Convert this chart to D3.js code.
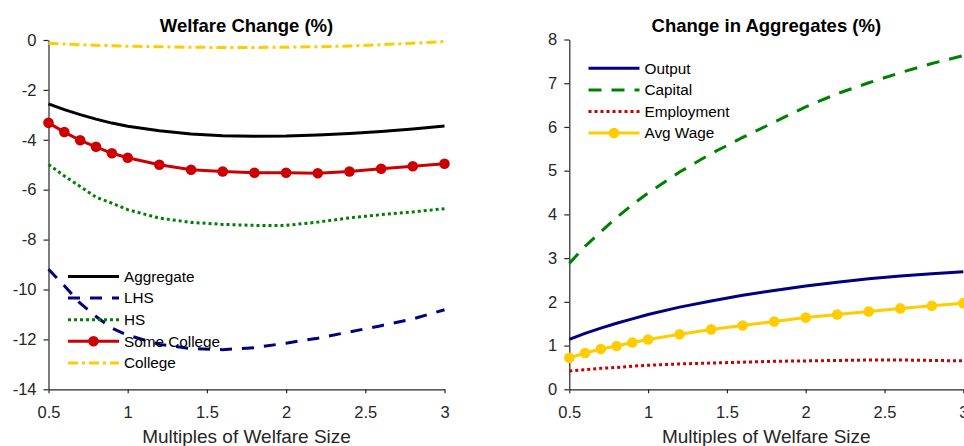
<!DOCTYPE html>
<html>
<head>
<meta charset="utf-8">
<script src="https://cdn.jsdelivr.net/npm/d3@7"></script>
<style>
  body { margin: 0; background: #fff; }
  svg { display: block; font-family: "Liberation Sans", Arial, sans-serif; }
</style>
</head>
<body>
<div id="chart"></div>
<script>
// x grid shared by every series
const xs = [0.5, 0.6, 0.7, 0.8, 0.9, 1.0, 1.2, 1.4, 1.6, 1.8, 2.0, 2.2, 2.4, 2.6, 2.8, 3.0];
const xTicks = [0.5, 1, 1.5, 2, 2.5, 3];

// left panel: welfare change (%)
const aggregate   = [-2.56, -2.79, -2.99, -3.17, -3.33, -3.46, -3.64, -3.77, -3.84, -3.86, -3.85, -3.81, -3.75, -3.67, -3.57, -3.45];
const lhs         = [-9.19, -9.85, -10.55, -11.08, -11.55, -11.83, -12.2, -12.37, -12.41, -12.33, -12.15, -11.95, -11.7, -11.45, -11.18, -10.81];
const hs          = [-4.99, -5.45, -5.87, -6.3, -6.54, -6.8, -7.14, -7.31, -7.39, -7.43, -7.43, -7.3, -7.13, -7.0, -6.89, -6.76];
const someCollege = [-3.32, -3.69, -4.02, -4.28, -4.54, -4.72, -5.0, -5.2, -5.27, -5.32, -5.32, -5.34, -5.27, -5.16, -5.06, -4.96];
const college     = [-0.13, -0.16, -0.19, -0.21, -0.23, -0.25, -0.27, -0.29, -0.3, -0.3, -0.29, -0.27, -0.24, -0.19, -0.13, -0.06];
const welfareTicks = [0, -2, -4, -6, -8, -10, -12, -14];

// right panel: change in aggregates (%)
const output     = [1.14, 1.28, 1.40, 1.51, 1.61, 1.71, 1.88, 2.02, 2.15, 2.26, 2.36, 2.45, 2.53, 2.59, 2.64, 2.69];
const capital    = [2.88, 3.27, 3.6, 3.93, 4.22, 4.49, 4.97, 5.39, 5.76, 6.11, 6.46, 6.76, 7.01, 7.24, 7.45, 7.63];
const employment = [0.42, 0.45, 0.48, 0.5, 0.53, 0.55, 0.58, 0.6, 0.62, 0.64, 0.65, 0.66, 0.67, 0.67, 0.66, 0.65];
const avgWage    = [0.72, 0.83, 0.92, 0.99, 1.07, 1.14, 1.26, 1.37, 1.46, 1.55, 1.64, 1.71, 1.78, 1.85, 1.91, 1.97];
const aggTicks = [0, 1, 2, 3, 4, 5, 6, 7, 8];

const width = 964, height = 446;
const axisColor = "#262626";

const svg = d3.select("#chart").append("svg")
  .attr("width", width)
  .attr("height", height);

function panel(opt) {
  const x = d3.scaleLinear().domain([0.5, 3]).range([opt.left, opt.right]);
  const y = d3.scaleLinear().domain(opt.yDomain).range([opt.bottom, opt.top]);
  const g = svg.append("g");

  // plain hyphen for negatives, like the original
  const fmt = d => String(d);

  const xAxis = g.append("g")
    .attr("transform", `translate(0,${opt.bottom})`)
    .call(d3.axisBottom(x).tickValues(xTicks).tickSize(4).tickPadding(13).tickSizeOuter(0)
      .tickFormat(fmt));
  const yAxis = g.append("g")
    .attr("transform", `translate(${opt.left},0)`)
    .call(d3.axisLeft(y).tickValues(opt.yTicks).tickSize(5).tickPadding(7).tickSizeOuter(0)
      .tickFormat(fmt));

  [xAxis, yAxis].forEach(a => {
    a.select(".domain").attr("stroke", axisColor).attr("stroke-width", 1.2);
    a.selectAll(".tick line").attr("stroke", axisColor).attr("stroke-width", 1.2);
    a.selectAll(".tick text").attr("fill", axisColor).style("font-size", "16.5px")
      .style("font-family", '"Liberation Sans", Arial, sans-serif');
  });

  g.append("text")
    .attr("x", (opt.left + opt.right) / 2)
    .attr("y", 32)
    .attr("text-anchor", "middle")
    .style("font-size", "18.5px")
    .style("font-weight", "bold")
    .attr("fill", "#000")
    .text(opt.title);

  g.append("text")
    .attr("x", (opt.left + opt.right) / 2)
    .attr("y", 443)
    .attr("text-anchor", "middle")
    .style("font-size", "19px")
    .attr("fill", axisColor)
    .text("Multiples of Welfare Size");

  const line = d3.line().x((d, i) => x(xs[i])).y(d => y(d));

  opt.series.forEach(s => {
    g.append("path")
      .datum(s.values)
      .attr("fill", "none")
      .attr("stroke", s.color)
      .attr("stroke-width", 3)
      .attr("stroke-dasharray", s.dash || null)
      .attr("d", line);
    if (s.marker) {
      g.selectAll(null)
        .data(s.values)
        .join("circle")
        .attr("cx", (d, i) => x(xs[i]))
        .attr("cy", d => y(d))
        .attr("r", 5.3)
        .attr("fill", s.color);
    }
  });

  // legend
  const lg = g.append("g");
  opt.series.forEach((s, i) => {
    const ly = opt.legendY + i * 21.6;
    lg.append("line")
      .attr("x1", opt.legendX).attr("x2", opt.legendX + 51)
      .attr("y1", ly).attr("y2", ly)
      .attr("stroke", s.color)
      .attr("stroke-width", 3)
      .attr("stroke-dasharray", s.dash || null);
    if (s.marker) {
      lg.append("circle")
        .attr("cx", opt.legendX + 25.5).attr("cy", ly)
        .attr("r", 5.3).attr("fill", s.color);
    }
    lg.append("text")
      .attr("x", opt.legendX + 56)
      .attr("y", ly)
      .attr("dy", "0.35em")
      .style("font-size", "15.3px")
      .attr("fill", "#000")
      .text(s.name);
  });
}

panel({
  left: 48.5, right: 444.5, top: 40, bottom: 389.3,
  yDomain: [-14, 0], yTicks: welfareTicks,
  title: "Welfare Change (%)",
  legendX: 68, legendY: 276.5,
  series: [
    { name: "Aggregate", values: aggregate, color: "#000000" },
    { name: "LHS", values: lhs, color: "#000080", dash: "12,10" },
    { name: "HS", values: hs, color: "#008000", dash: "3,3" },
    { name: "Some College", values: someCollege, color: "#cc0000", marker: true },
    { name: "College", values: college, color: "#ffcc00", dash: "10,4,3,4" }
  ]
});

panel({
  left: 569.3, right: 963.3, top: 39.5, bottom: 389.3,
  yDomain: [0, 8], yTicks: aggTicks,
  title: "Change in Aggregates (%)",
  legendX: 588.5, legendY: 68.3,
  series: [
    { name: "Output", values: output, color: "#000080" },
    { name: "Capital", values: capital, color: "#008000", dash: "13,10" },
    { name: "Employment", values: employment, color: "#cc0000", dash: "3,3" },
    { name: "Avg Wage", values: avgWage, color: "#ffcc00", marker: true }
  ]
});
</script>
</body>
</html>
